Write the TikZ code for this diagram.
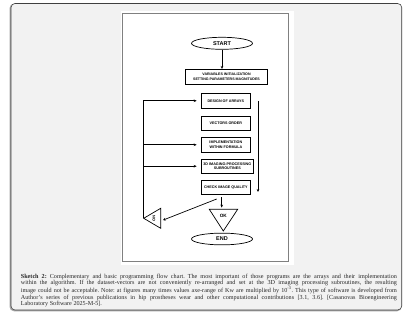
\documentclass[tikz,border=0pt]{standalone}
\usepackage{fontspec}
\setmainfont{Liberation Serif}
\newfontfamily\boxfont{Liberation Sans}
\usetikzlibrary{shapes.geometric,arrows.meta}
\definecolor{framebg}{HTML}{F2F2F2}
\begin{document}
\frenchspacing
\begin{tikzpicture}[x=1pt,y=-1pt,
  box/.style={draw=black,line width=0.7pt,rectangle,inner sep=0pt,align=center,
    font=\boxfont\bfseries\fontsize{3.7}{4.4}\selectfont},
  term/.style={draw=black,line width=0.7pt,ellipse,inner sep=0pt,minimum width=61pt,
    minimum height=12pt,font=\boxfont\bfseries\fontsize{5.5}{6}\selectfont},
  conn/.style={line width=0.7pt,-{Stealth[length=3pt,width=2.6pt]}},
  plain/.style={line width=0.7pt}]
\useasboundingbox (0,0) rectangle (407,318);
\fill[white] (0,0) rectangle (407,318);
% outer frame
\draw[rounded corners=4pt, line width=1.4pt, draw=gray!70] (10.2,4.4) rectangle (400.9,310.6);
\draw[rounded corners=4pt, line width=0.6pt, draw=black!75, fill=framebg] (11,3.5) rectangle (401.7,310);
% figure area
\fill[white] (120.5,11) rectangle (294,265);
\draw[gray, line width=0.8pt] (122.5,13.3) rectangle (288.3,261.7);
% nodes
\node[term] (start) at (222,43.3) {START};
\node[box,minimum width=81.6pt,minimum height=15pt,font=\boxfont\bfseries\fontsize{3.6}{4.4}\selectfont] (init) at (226.5,76.8) {VARIABLES INITIALIZATION\\SETTING PARAMETERS MAGNITUDES};
\node[box,minimum width=49.7pt,minimum height=15pt] (design) at (225.85,100.8) {DESIGN OF ARRAYS};
\node[box,minimum width=49.7pt,minimum height=14pt] (vectors) at (225.85,123) {VECTORS ORDER};
\node[box,minimum width=49.7pt,minimum height=15pt] (impl) at (225.85,144.8) {IMPLEMENTATION\\WITHIN FORMULA};
\node[box,minimum width=52.7pt,minimum height=14.3pt] (img) at (227.35,166.2) {3D IMAGING-PROCESSING\\SUBROUTINES};
\node[box,minimum width=49.7pt,minimum height=14.3pt] (check) at (225.85,187.2) {CHECK IMAGE QUALITY};
% OK triangle
\coordinate (okl) at (209.3,209.3);
\coordinate (okr) at (237.7,209.3);
\coordinate (oka) at (223.3,231);
\draw[plain] (okl) -- (okr) -- (oka) -- cycle;
\node[font=\boxfont\bfseries\fontsize{4.7}{5}\selectfont, inner sep=0pt] (ok) at (223.3,216.3) {OK};
\node[term, minimum height=11.7pt] (end) at (222,239) {END};
% NO triangle
\coordinate (noapex) at (143.7,218.3);
\coordinate (not) at (160.7,208.3);
\coordinate (nob) at (160.7,228.3);
\draw[plain] (noapex) -- (not) -- (nob) -- cycle;
\node[font=\boxfont\bfseries\fontsize{3.8}{4}\selectfont, inner sep=0pt, rotate=-90] (no) at (154,218.3) {NO};
% connectors
\draw[conn] (start.south) -- (start.south |- init.north);
\draw[conn] (noapex) |- ([xshift=-4pt]design.west);
\draw[conn] (noapex |- impl.west) -- ([xshift=-4pt]impl.west);
\draw[conn] (noapex |- img.west) -- ([xshift=-4pt]img.west);
\coordinate (r1) at (258,101);
\coordinate (r2) at (258,192);
\draw[conn] (r1) -- (r2);
\coordinate (c1) at (221.7,197.3);
\coordinate (c2) at (221.7,207.6);
\draw[conn] (c1) -- (c2);
\coordinate (d1) at (216.7,199);
\coordinate (d2) at (162.8,220.2);
\draw[conn] (d1) -- (d2);
% caption
\node[anchor=north west, inner sep=0pt, text width=376pt, align=justify,
  font=\fontsize{6.15}{5.45}\selectfont, text=black!85] (cap) at (20.7,273.6)
{\textbf{Sketch 2:} Complementary and basic programming flow chart. The most important of those programs are the arrays and their implementation\linebreak
within the algorithm. If the dataset-vectors are not conveniently re-arranged and set at the 3D imaging processing subroutines, the resulting\linebreak
image could not be acceptable. Note: at figures many times values axe-range of Kw are multiplied by 10\textsuperscript{-3}. This type of software is developed from\linebreak
Author's series of previous publications in hip prostheses wear and other computational contributions [3.1, 3.6]. [Casanovas Bioengineering\linebreak
Laboratory Software 2025-M-5].};
\end{tikzpicture}
\end{document}
